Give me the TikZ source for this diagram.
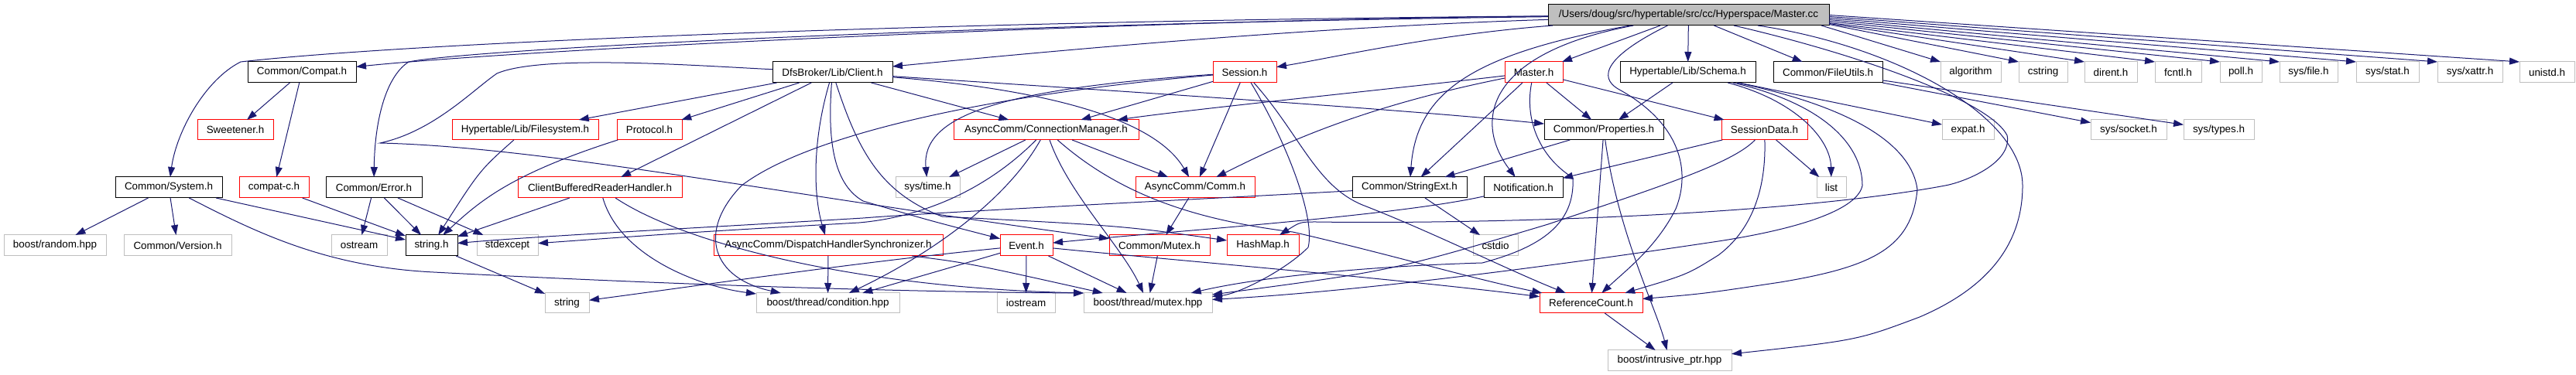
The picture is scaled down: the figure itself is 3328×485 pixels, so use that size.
\documentclass[tikz,border=0pt]{standalone}
\usepackage{fontspec}
\setmainfont{Liberation Sans}
\usetikzlibrary{arrows.meta,calc}
\definecolor{edgeblue}{HTML}{191970}
\definecolor{boxgray}{HTML}{BFBFBF}
\newcommand\bx[7]{\node[#1,minimum width={(#4-#2)*0.5pt},minimum height={(#5-#3)*0.5pt}] (#6) at ({(#2+#4)/2},{(#3+#5)/2}) {#7};}
\begin{document}
\begin{tikzpicture}[x=0.5pt,y=-0.5pt,
  every node/.style={font=\fontsize{6.7pt}{8pt}\selectfont, inner sep=0pt, outer sep=0pt},
  hb/.style={draw=black, line width=0.5pt},
  hr/.style={draw=red, line width=0.5pt},
  hg/.style={draw=boxgray, line width=0.5pt},
  hm/.style={draw=black, fill=boxgray, line width=0.5pt},
  e/.style={draw=edgeblue, line width=0.5pt, -{Triangle[length=6.5pt,width=4.5pt]}}
]
\useasboundingbox (0,0) rectangle (3328,485);
% row 1
\bx{hm}{2000}{6}{2363}{33}{mc}{/Users/doug/src/hypertable/src/cc/Hyperspace/Master.cc}
% row 2
\bx{hb}{320}{80}{460}{107}{compat}{Common/Compat.h}
\bx{hb}{998}{80}{1153}{107}{client}{DfsBroker/Lib/Client.h}
\bx{hr}{1567}{80}{1649}{107}{session}{Session.h}
\bx{hr}{1944}{80}{2019}{107}{masterh}{Master.h}
\bx{hb}{2093}{80}{2268}{107}{schema}{Hypertable/Lib/Schema.h}
\bx{hb}{2291}{80}{2432}{107}{fileutils}{Common/FileUtils.h}
\bx{hg}{2507}{80}{2585}{107}{algorithm}{algorithm}
\bx{hg}{2608}{80}{2671}{107}{cstring}{cstring}
\bx{hg}{2693}{80}{2761}{107}{dirent}{dirent.h}
\bx{hg}{2784}{80}{2844}{107}{fcntl}{fcntl.h}
\bx{hg}{2868}{80}{2922}{107}{poll}{poll.h}
\bx{hg}{2945}{80}{3020}{107}{sysfile}{sys/file.h}
\bx{hg}{3044}{80}{3125}{107}{sysstat}{sys/stat.h}
\bx{hg}{3149}{80}{3233}{107}{sysxattr}{sys/xattr.h}
\bx{hg}{3255}{80}{3326}{107}{unistd}{unistd.h}
% row 3
\bx{hr}{255}{155}{353}{181}{sweetener}{Sweetener.h}
\bx{hr}{584}{155}{773}{181}{filesystem}{Hypertable/Lib/Filesystem.h}
\bx{hr}{797}{155}{881}{181}{protocol}{Protocol.h}
\bx{hr}{1232}{155}{1471}{181}{connmgr}{AsyncComm/ConnectionManager.h}
\bx{hb}{1995}{155}{2149}{181}{properties}{Common/Properties.h}
\bx{hr}{2224}{155}{2335}{181}{sessiondata}{SessionData.h}
\bx{hg}{2509}{155}{2576}{181}{expat}{expat.h}
\bx{hg}{2701}{155}{2799}{181}{syssocket}{sys/socket.h}
\bx{hg}{2821}{155}{2912}{181}{systypes}{sys/types.h}
% row 4
\bx{hb}{149}{229}{287}{256}{system}{Common/System.h}
\bx{hr}{309}{229}{399}{256}{compatc}{compat-c.h}
\bx{hb}{421}{229}{545}{256}{error}{Common/Error.h}
\bx{hr}{669}{229}{881}{256}{cbrh}{ClientBufferedReaderHandler.h}
\bx{hg}{1157}{229}{1240}{256}{systime}{sys/time.h}
\bx{hr}{1467}{229}{1621}{256}{comm}{AsyncComm/Comm.h}
\bx{hb}{1747}{229}{1895}{256}{stringext}{Common/StringExt.h}
\bx{hb}{1917}{229}{2019}{256}{notification}{Notification.h}
\bx{hg}{2347}{229}{2385}{256}{list}{list}
% row 5
\bx{hg}{5}{304}{137}{331}{random}{boost/random.hpp}
\bx{hg}{160}{304}{299}{331}{version}{Common/Version.h}
\bx{hg}{428}{304}{500}{331}{ostream}{ostream}
\bx{hb}{524}{304}{591}{331}{stringh}{string.h}
\bx{hg}{616}{304}{695}{331}{stdexcept}{stdexcept}
\bx{hr}{922}{304}{1218}{331}{dhs}{AsyncComm/DispatchHandlerSynchronizer.h}
\bx{hr}{1292}{304}{1360}{331}{event}{Event.h}
\bx{hr}{1433}{304}{1563}{331}{mutexh}{Common/Mutex.h}
\bx{hr}{1585}{304}{1678}{331}{hashmap}{HashMap.h}
\bx{hg}{1903}{304}{1961}{331}{cstdio}{cstdio}
% row 6
\bx{hg}{704}{379}{761}{405}{string}{string}
\bx{hg}{977}{379}{1162}{405}{condition}{boost/thread/condition.hpp}
\bx{hg}{1288}{379}{1363}{405}{iostream}{iostream}
\bx{hg}{1400}{379}{1566}{405}{mutexhpp}{boost/thread/mutex.hpp}
\bx{hr}{1989}{379}{2122}{405}{refcount}{ReferenceCount.h}
% row 7
\bx{hg}{2077}{453}{2237}{480}{intrusive}{boost/intrusive\_ptr.hpp}

% ---- edges from Master.cc
\draw[e] (mc) .. controls (1500,25) and (700,62) .. (compat);
\draw[e] (mc) .. controls (1300,26) and (560,52) .. (311,80) .. controls (265,103) and (228,170) .. (system);
\draw[e] (mc) .. controls (1300,30) and (620,62) .. (528,80) .. controls (497,100) and (484,160) .. (error);
\draw[e] (mc) .. controls (1700,35) and (1400,62) .. (client);
\draw[e] (mc) .. controls (1850,45) and (1720,75) .. (session);
\draw[e] (mc) -- (masterh);
\draw[e] (mc) -- (schema);
\draw[e] (mc) -- (fileutils);
\draw[e] ($(mc.south east)+(-10,0)$) -- (algorithm.north west);
\draw[e] ($(mc.east)+(0,12)$) -- (cstring.north west);
\draw[e] ($(mc.east)+(0,11)$) -- (dirent.north west);
\draw[e] ($(mc.east)+(0,10)$) -- (fcntl.north west);
\draw[e] ($(mc.east)+(0,8)$) -- (poll.north west);
\draw[e] ($(mc.east)+(0,6)$) -- (sysfile.north west);
\draw[e] ($(mc.east)+(0,4)$) -- (sysstat.north west);
\draw[e] ($(mc.east)+(0,2)$) -- (sysxattr.north west);
\draw[e] ($(mc.east)+(0,0)$) -- (unistd.north west);
\draw[e] (mc) .. controls (1900,70) and (1830,120) .. (stringext);
\draw[e] (mc) .. controls (1915,70) and (1905,160) .. (notification);
\draw[e] (mc) .. controls (2060,80) and (2070,105) .. (2094,117) .. controls (2170,160) and (2185,220) .. (2165,270) .. controls (2140,320) and (2100,350) .. (refcount);
\draw[e] (mc) .. controls (2400,70) and (2570,130) .. (2593,175) .. controls (2600,210) and (2540,235) .. (2513,240) .. controls (2300,280) and (1900,290) .. (1700,287) .. controls (1680,287) .. (hashmap);
\draw[e] (mc) .. controls (2450,60) and (2613,150) .. (2613,240) .. controls (2613,330) and (2550,380) .. (2480,410) .. controls (2400,440) .. (intrusive);

% ---- Compat / System / Error
\draw[e] (compat) -- (sweetener);
\draw[e] (compat) -- (compatc);
\draw[e] (system) -- (random);
\draw[e] (system) -- (version);
\draw[e] (system) -- (stringh);
\draw[e] (system) .. controls (330,300) and (420,345) .. (560,352) .. controls (900,370) and (1200,378) .. (mutexhpp.north west);
\draw[e] (compatc) -- (stringh);
\draw[e] (error) -- (ostream);
\draw[e] (error) -- (stringh);
\draw[e] (error) -- (stdexcept);
\draw[e] (stringh) -- (string);

% ---- Client
\draw[e] (client) -- (filesystem);
\draw[e] (client) -- (protocol);
\draw[e] (client) -- (cbrh);
\draw[e] (client) -- (connmgr);
\draw[e] (client) .. controls (1340,115) and (1490,150) .. (comm);
\draw[e] (client) .. controls (1400,115) and (1800,140) .. (properties);
\draw[e] (client) .. controls (1050,180) and (1050,250) .. (dhs);
\draw[e] (client) .. controls (1068,190) and (1080,240) .. (1115,260) .. controls (1200,285) .. (event);
\draw[e] (client) .. controls (1110,200) and (1140,250) .. (1217,280) .. controls (1450,292) .. (hashmap);
\draw[e] (client) .. controls (900,85) and (700,70) .. (642,95) .. controls (610,117) and (560,170) .. (491,185) .. controls (700,190) and (1000,250) .. (mutexh);
\draw[e] (filesystem) .. controls (620,220) .. (stringh);
\draw[e] (protocol) .. controls (660,225) and (620,260) .. (stringh);
\draw[e] (cbrh) -- (stringh);
\draw[e] (cbrh) .. controls (800,330) and (900,370) .. (condition);
\draw[e] (cbrh) .. controls (880,313) and (1100,372) .. (mutexhpp.north west);

% ---- Session
\draw[e] (session) -- (connmgr);
\draw[e] (session) -- (comm);
\draw[e] (session) .. controls (1290,115) and (1190,150) .. (systime);
\draw[e] (session) .. controls (1300,120) and (1050,170) .. (958,240) .. controls (900,300) and (920,360) .. (condition);
\draw[e] (session) .. controls (1680,175) and (1700,240) .. (1760,265) .. controls (1850,300) and (1950,350) .. (refcount);
\draw[e] (session) .. controls (1660,180) and (1700,280) .. (1690,320) .. controls (1660,350) and (1600,380) .. (mutexhpp);

% ---- ConnectionManager
\draw[e] (connmgr) -- (systime);
\draw[e] (connmgr) -- (comm);
\draw[e] (connmgr) .. controls (1300,260) and (1200,330) .. (condition);
\draw[e] (connmgr) .. controls (1380,250) and (1450,320) .. (mutexhpp);
\draw[e] (connmgr) .. controls (1280,240) and (1200,280) .. (1110,288) .. controls (900,300) .. (stdexcept);
\draw[e] (connmgr) .. controls (1450,255) and (1550,285) .. (1670,300) .. controls (1800,330) and (1900,360) .. (refcount);

% ---- Comm, Mutex, Event, DHS
\draw[e] (comm) -- (mutexh);
\draw[e] (mutexh) -- (mutexhpp);
\draw[e] (event) -- (iostream);
\draw[e] (event) -- (mutexhpp);
\draw[e] (event) -- (condition);
\draw[e] (event) .. controls (1100,340) and (900,370) .. (string);
\draw[e] (event) .. controls (1500,335) and (1800,360) .. (refcount);
\draw[e] (dhs) -- (condition);
\draw[e] (dhs) .. controls (1250,340) .. (mutexhpp);

% ---- StringExt, Properties, Master.h
\draw[e] (stringext) .. controls (1600,255) and (1200,275) .. (1115,282) .. controls (900,295) and (700,305) .. (stringh);
\draw[e] (stringext) -- (cstdio);
\draw[e] (properties) -- (stringext);
\draw[e] (properties) -- (refcount);
\draw[e] (properties) .. controls (2090,300) and (2140,400) .. (intrusive);
\draw[e] (masterh) .. controls (1800,115) and (1550,140) .. (connmgr);
\draw[e] (masterh) .. controls (1750,140) and (1650,190) .. (comm);
\draw[e] (masterh) -- (stringext);
\draw[e] (masterh) -- (properties);
\draw[e] (masterh) -- (sessiondata);
\draw[e] (masterh) .. controls (1970,150) and (1985,200) .. (2032,230) .. controls (2035,290) and (1990,320) .. (1915,340) .. controls (1750,345) and (1620,360) .. (mutexhpp);

% ---- Schema, SessionData, FileUtils, Notification
\draw[e] (schema) -- (properties);
\draw[e] (schema) .. controls (2320,130) and (2365,180) .. (list);
\draw[e] (schema) -- (expat);
\draw[e] (schema) .. controls (2400,140) and (2470,190) .. (2477,245) .. controls (2470,320) and (2420,345) .. (2300,365) .. controls (2200,380) .. (refcount);
\draw[e] (schema) .. controls (2360,135) and (2406,190) .. (2406,240) .. controls (2400,270) and (2330,295) .. (2220,312) .. controls (1900,360) and (1700,380) .. (mutexhpp);
\draw[e] (sessiondata) -- (notification);
\draw[e] (sessiondata) -- (list);
\draw[e] (sessiondata) .. controls (2282,250) and (2260,300) .. (2220,330) .. controls (2180,355) .. (refcount);
\draw[e] (sessiondata) .. controls (2240,210) and (2150,240) .. (2000,290) .. controls (1800,350) .. (mutexhpp);
\draw[e] (fileutils) -- (syssocket);
\draw[e] (fileutils) -- (systypes);
\draw[e] (notification) .. controls (1800,280) and (1500,300) .. (event);
\draw[e] (refcount) -- (intrusive);
\end{tikzpicture}
\end{document}
